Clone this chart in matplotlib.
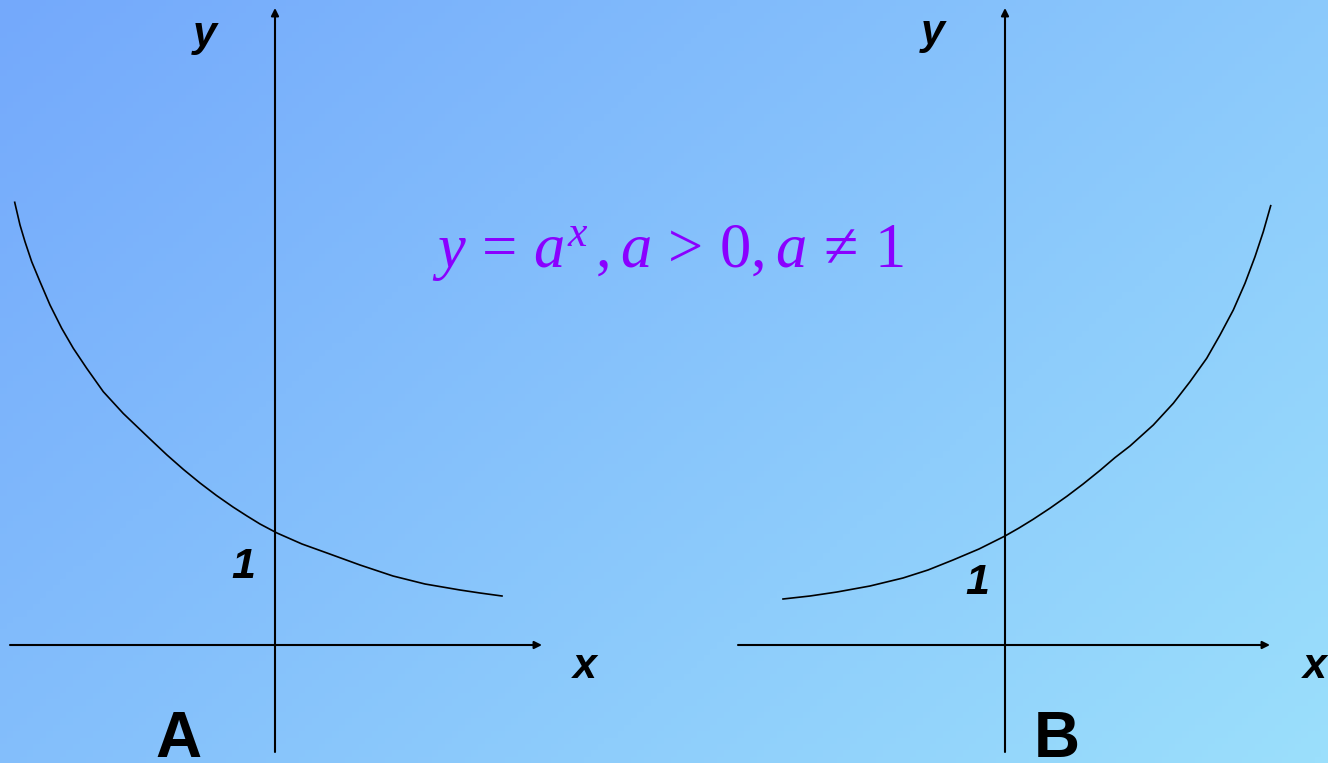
import numpy as np
import matplotlib
matplotlib.use("Agg")
import matplotlib.pyplot as plt
from matplotlib.colors import LinearSegmentedColormap

# Curve A (decreasing, 0 < a < 1), 1 unit = 100 px
curve_a_x = [-2.603, -2.55, -2.50, -2.433, -2.35, -2.25, -2.133, -2.017, -1.883, -1.717,
             -1.517, -1.25, -1.08, -0.915, -0.75, -0.585, -0.42, -0.28, -0.15, 0.02,
             0.27, 0.52, 0.85, 1.18, 1.50, 1.85, 2.05, 2.27]
curve_a_y = [4.427, 4.20, 4.033, 3.833, 3.633, 3.40, 3.167, 2.967, 2.767, 2.533,
             2.315, 2.06, 1.90, 1.755, 1.62, 1.495, 1.38, 1.29, 1.21, 1.12,
             1.01, 0.92, 0.80, 0.69, 0.61, 0.55, 0.52, 0.49]

# Curve B (increasing, a > 1)
curve_b_x = [-2.22, -1.95, -1.68, -1.35, -1.02, -0.77, -0.52, -0.26, 0.00, 0.14,
             0.28, 0.45, 0.62, 0.78, 0.95, 1.10, 1.25, 1.483, 1.683, 1.85,
             2.017, 2.15, 2.283, 2.40, 2.50, 2.583, 2.657]
curve_b_y = [0.46, 0.49, 0.53, 0.59, 0.67, 0.75, 0.85, 0.96, 1.09, 1.17,
             1.256, 1.368, 1.488, 1.609, 1.746, 1.874, 1.99, 2.20, 2.417, 2.633,
             2.867, 3.10, 3.35, 3.617, 3.883, 4.133, 4.393]

# Axis extents per panel (x-axis left/right, y-axis bottom/top)
axis_a = {"x": (-2.65, 2.67), "y": (-1.07, 6.37)}
axis_b = {"x": (-2.67, 2.65), "y": (-1.07, 6.37)}

panel_labels = ["A", "B"]
formula = r"$y\,=\,a^{x}\,,a\,>\,0,a\,\neq\,1$"

plt.rcParams["mathtext.fontset"] = "custom"
plt.rcParams["mathtext.rm"] = "Liberation Serif"
plt.rcParams["mathtext.it"] = "Liberation Serif:italic"

W, H = 1328, 763
fig = plt.figure(figsize=(W / 100, H / 100), dpi=100)

# Background gradient (top-left darker blue to bottom-right lighter blue)
bg = fig.add_axes([0, 0, 1, 1], zorder=0)
gx, gy = np.meshgrid(np.linspace(0, 1, 200), np.linspace(0, 1, 120))
grad = (gx * 0.6 + gy * 0.4)
cmap = LinearSegmentedColormap.from_list("bg", ["#74a9fb", "#9bdffc"])
bg.imshow(grad, cmap=cmap, aspect="auto", extent=[0, 1, 0, 1], origin="upper")
bg.axis("off")

label_font = dict(family="Liberation Sans", fontweight="bold", fontstyle="italic",
                  fontsize=31, color="black")
big_font = dict(family="Liberation Sans", fontweight="bold", fontsize=46, color="black")


def draw_panel(rect, xlim, curve_x, curve_y, axis, y_pos, x_pos, one_pos, letter_pos, letter):
    ax = fig.add_axes(rect, zorder=1)
    ax.set_xlim(*xlim)
    ax.set_ylim(-1.18, 6.45)
    ax.patch.set_alpha(0)
    ax.axis("off")

    arrow = dict(arrowstyle="-|>", color="black", lw=1.5, mutation_scale=11,
                 shrinkA=0, shrinkB=0)
    ax.annotate("", xy=(axis["x"][1], 0), xytext=(axis["x"][0], 0), arrowprops=arrow)
    ax.annotate("", xy=(0, axis["y"][1]), xytext=(0, axis["y"][0]), arrowprops=arrow)

    ax.plot(curve_x, curve_y, color="black", lw=1.2, solid_joinstyle="round")

    ax.text(*y_pos, "y", ha="center", va="center", **label_font)
    ax.text(*x_pos, "x", ha="center", va="center", **label_font)
    ax.text(*one_pos, "1", ha="center", va="center", **label_font)
    ax.text(*letter_pos, letter, ha="center", va="baseline", **big_font)
    return ax


draw_panel([0, 0, 0.5, 1], (-2.75, 3.89), curve_a_x, curve_a_y, axis_a,
           (-0.70, 6.10), (3.10, -0.22), (-0.32, 0.78), (-0.97, -1.12), panel_labels[0])
draw_panel([0.5, 0, 0.5, 1], (-3.41, 3.23), curve_b_x, curve_b_y, axis_b,
           (-0.72, 6.12), (3.10, -0.22), (-0.28, 0.62), (0.52, -1.12), panel_labels[1])

fig.text(668 / W, 1 - 267 / H, formula, ha="center", va="baseline",
         fontsize=45, color="#8a00ff", zorder=2)

fig.savefig("out.png", dpi=100)
